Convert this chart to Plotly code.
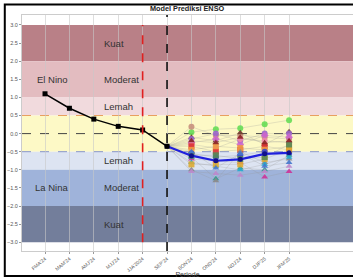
import plotly.graph_objects as go

periods = ["FMA'24", "MAM'24", "AMJ'24", "MJJ'24", "JJA'2024", "SEP'24",
           "SON'24", "OND'24", "NDJ'24", "DJF'25", "JFM'25"]
obs_vals = [1.1, 0.7, 0.4, 0.2, 0.1, -0.35]
mean_vals = [-0.35, -0.61, -0.75, -0.71, -0.56, -0.53]

model_names = ["M1", "M2", "M3", "M4", "M5", "M6", "M7", "M8", "M9",
               "M10", "M11", "M12", "M13", "M14", "M15", "M16", "M17", "M18"]
model_vals = [
    [0.04, 0.12, 0.15, 0.26, 0.37],
    [0.19, -0.05, -0.05, -0.10, -0.15],
    [-0.10, -0.20, 0.02, -0.30, 0.05],
    [-0.15, 0.00, -0.20, 0.00, 0.00],
    [-0.25, -0.15, -0.30, -0.05, -0.10],
    [-0.30, -0.40, -0.15, -0.20, -0.25],
    [-0.35, -0.50, -0.45, -0.35, -0.45],
    [-0.45, -0.35, -0.40, -0.45, -0.35],
    [-0.55, -0.65, -0.60, -0.50, -0.55],
    [-0.70, -0.75, -0.80, -1.20, -1.05],
    [-0.65, -1.25, -0.95, -1.00, -0.60],
    [-1.00, -1.30, -0.50, -0.80, -0.70],
    [-0.80, -0.90, -1.00, -0.85, -0.65],
    [-1.05, -1.10, -1.15, -1.05, -0.90],
    [-0.85, -0.85, -0.85, -0.70, -0.45],
    [-0.60, -0.60, -0.70, -0.65, -0.30],
    [-0.50, -0.95, -0.55, -0.90, -0.80],
    [-0.20, -0.25, -0.10, -0.25, -0.20],
]
model_colors = ["#66dd55", "#c8907c", "#6b3b2a", "#9966cc", "#cc66cc", "#ee88aa",
                "#dd3333", "#ee9944", "#3344cc", "#cc3399", "#339988", "#888888",
                "#22aacc", "#bb88cc", "#ddaa33", "#558855", "#4477cc", "#882222"]
model_symbols = ["circle", "circle", "triangle-up", "circle", "diamond", "circle",
                 "square", "square", "circle", "triangle-up", "triangle-up", "triangle-up",
                 "triangle-up", "triangle-up", "square", "square", "triangle-up", "triangle-up"]

band_lo = [2.0, 1.0, 0.5, -0.5, -1.0, -2.0, -3.0]
band_hi = [3.0, 2.0, 1.0, 0.5, -0.5, -1.0, -2.0]
band_colors = ["#b98087", "#e3bcc0", "#f1dadd", "#fdf9c6", "#dde4f2", "#9fb3da", "#737e9b"]

labels = ["Kuat", "El Nino", "Moderat", "Lemah", "Lemah", "La Nina", "Moderat", "Kuat"]
label_x = [2.34, -0.41, 2.34, 2.34, 2.34, -0.48, 2.34, 2.34]
label_y = [2.5, 1.5, 1.5, 0.75, -0.75, -1.5, -1.5, -2.5]

xs = list(range(len(periods)))
fc_x = xs[5:]

fig = go.Figure()

for i, vals in enumerate(model_vals):
    fig.add_trace(go.Scatter(x=fc_x, y=[obs_vals[-1]] + vals, mode="lines",
                             line=dict(color="rgba(150,150,150,0.35)", width=0.7),
                             hoverinfo="skip", showlegend=False))
for i, vals in enumerate(model_vals):
    fig.add_trace(go.Scatter(x=fc_x[1:], y=vals, mode="markers", name=model_names[i],
                             marker=dict(color=model_colors[i], symbol=model_symbols[i],
                                         size=6, opacity=0.9),
                             showlegend=False))

fig.add_trace(go.Scatter(x=fc_x, y=mean_vals, mode="lines+markers",
                         line=dict(color="#2020dd", width=2.2),
                         marker=dict(color="#10108a", size=5), showlegend=False))
fig.add_trace(go.Scatter(x=xs[:6], y=obs_vals, mode="lines+markers",
                         line=dict(color="black", width=1.5),
                         marker=dict(color="black", symbol="square", size=5), showlegend=False))

shapes = []
for lo, hi, c in zip(band_lo, band_hi, band_colors):
    shapes.append(dict(type="rect", xref="paper", x0=0, x1=1, yref="y", y0=lo, y1=hi,
                       fillcolor=c, line=dict(width=0), layer="below"))
shapes.append(dict(type="line", xref="paper", x0=0, x1=1, yref="y", y0=0.5, y1=0.5,
                   line=dict(color="#e8a060", width=1, dash="dash"), layer="below"))
shapes.append(dict(type="line", xref="paper", x0=0, x1=1, yref="y", y0=0.0, y1=0.0,
                   line=dict(color="#444444", width=1, dash="dash"), layer="below"))
shapes.append(dict(type="line", xref="paper", x0=0, x1=1, yref="y", y0=-0.5, y1=-0.5,
                   line=dict(color="#8896c8", width=1, dash="dash"), layer="below"))
shapes.append(dict(type="line", xref="x", x0=4, x1=4, yref="y", y0=-3, y1=3,
                   line=dict(color="#e02020", width=1.6, dash="dash")))
shapes.append(dict(type="line", xref="x", x0=5, x1=5, yref="paper", y0=0, y1=1,
                   line=dict(color="#111111", width=1.6, dash="dash")))
# outer frame
shapes.append(dict(type="rect", xref="paper", yref="paper", x0=-0.052, x1=1.04,
                   y0=-0.106, y1=1.045, line=dict(color="black", width=2)))

annotations = []
for t, x, y in zip(labels, label_x, label_y):
    annotations.append(dict(x=x, y=y, xref="x", yref="y", text=t, showarrow=False,
                            xanchor="left", yanchor="middle",
                            font=dict(size=9.5, color="#333333", family="Liberation Sans")))

fig.update_layout(
    width=353, height=278,
    margin=dict(l=22, r=0, t=15, b=27, autoexpand=False),
    paper_bgcolor="white", plot_bgcolor="white",
    shapes=shapes, annotations=annotations,
    title=dict(text="<b>Model Prediksi ENSO</b>", x=0.53, xref="container", xanchor="center",
               y=0.968, yref="container", yanchor="middle", automargin=False,
               font=dict(size=7.3, color="#222222", family="Liberation Sans")),
    font=dict(family="Liberation Sans"),
    xaxis=dict(range=[-0.943, 12.62], tickvals=xs, ticktext=periods, tickangle=-40,
               automargin=False,
               tickfont=dict(size=5, color="#555555"), showgrid=True,
               gridcolor="rgba(200,200,200,0.6)", gridwidth=0.8, zeroline=False,
               showline=True, linecolor="#cccccc", mirror=True, ticks="outside",
               ticklen=2, tickcolor="#999999",
               title=dict(text="Periode", font=dict(size=7, color="#444444"), standoff=1)),
    yaxis=dict(range=[-3.243, 3.276], tickvals=[3.0, 2.5, 2.0, 1.5, 1.0, 0.5, 0.0, -0.5,
                                                 -1.0, -1.5, -2.0, -2.5, -3.0],
               automargin=False,
               tickformat=".1f", tickfont=dict(size=5.5, color="#555555"),
               showgrid=False, zeroline=False, showline=True, linecolor="#cccccc",
               mirror=True, ticks="outside", ticklen=2, tickcolor="#999999"),
)

fig.write_html("out.html", config={"displayModeBar": False},
               post_script="document.body.style.margin='0';document.body.style.overflow='hidden';")
